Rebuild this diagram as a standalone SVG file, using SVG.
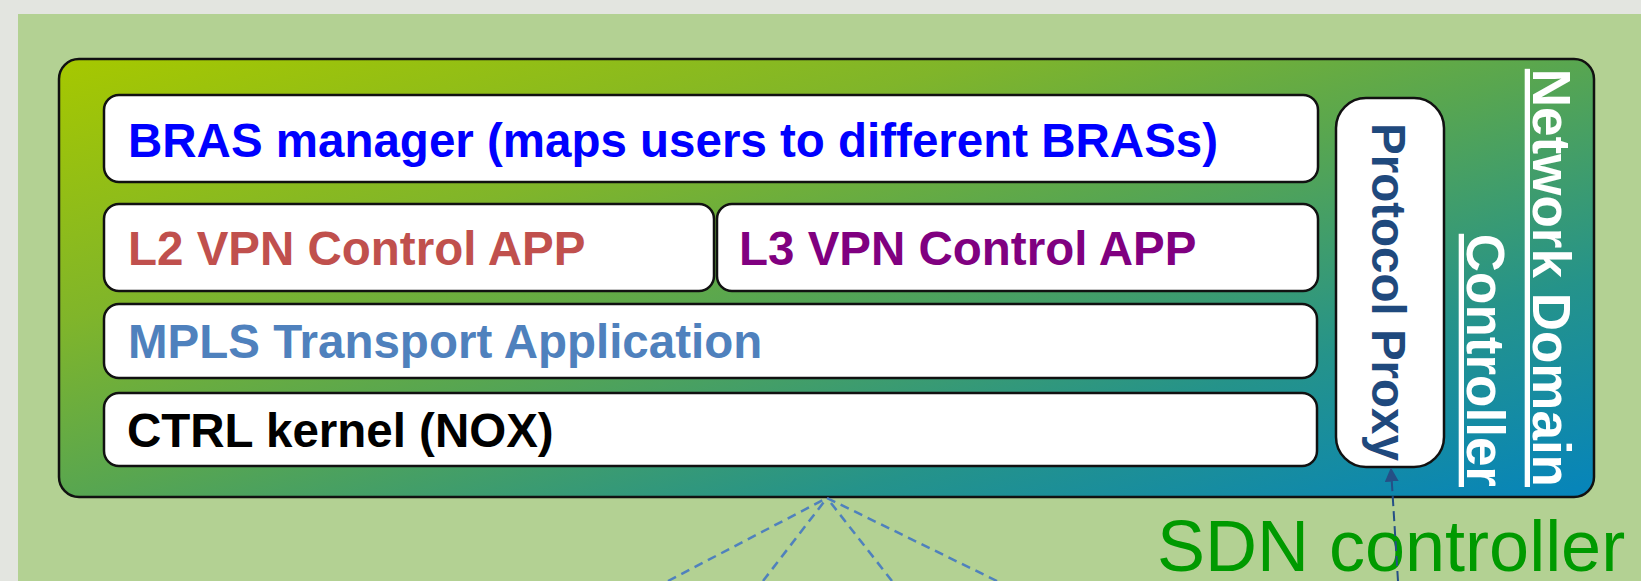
<svg xmlns="http://www.w3.org/2000/svg" width="1641" height="581" viewBox="0 0 1641 581">
<defs>
<linearGradient id="outerGrad" x1="0" y1="0" x2="1" y2="1">
<stop offset="0" stop-color="#a6c800"/>
<stop offset="0.3" stop-color="#80b52a"/>
<stop offset="0.5" stop-color="#58a650"/>
<stop offset="0.75" stop-color="#25938a"/>
<stop offset="1" stop-color="#0584bc"/>
</linearGradient>
<marker id="arrowBlue" viewBox="0 0 10 10" refX="9" refY="5" markerWidth="14" markerHeight="14" markerUnits="userSpaceOnUse" orient="auto">
<path d="M0,0 L10,5 L0,10 z" fill="#254f86"/>
</marker>
<style>
.box{fill:#ffffff;stroke:#111111;stroke-width:2.5}
.lbl{font-family:"Liberation Sans",Arial,sans-serif;font-weight:bold;font-size:47.5px}
.ndc{font-family:"Liberation Sans",Arial,sans-serif;font-weight:bold;font-size:53px;fill:#ffffff;text-decoration:underline}
.dash{stroke:#4f81bd;stroke-width:2.5;stroke-dasharray:9 6;fill:none}
</style>
</defs>
<rect x="0" y="0" width="1641" height="581" fill="#e3e5e0"/>
<rect x="18" y="14" width="1623" height="567" fill="#b3d193"/>

<g id="network-domain-controller">
<rect x="59" y="59" width="1535" height="438" rx="20" fill="url(#outerGrad)" stroke="#111111" stroke-width="2.5"/>
<text class="ndc" transform="translate(1533,487) rotate(90)" text-anchor="end">Network Domain</text>
<text class="ndc" transform="translate(1467,487) rotate(90)" text-anchor="end">Controller</text>
</g>

<g id="bras-manager">
<rect class="box" x="104" y="95" width="1214" height="87" rx="15"/>
<text class="lbl" x="128" y="157" fill="#0000ff">BRAS manager (maps users to different BRASs)</text>
</g>

<g id="l2-vpn">
<rect class="box" x="104" y="204" width="610" height="87" rx="15"/>
<text class="lbl" x="128" y="265" fill="#c0504d">L2 VPN Control APP</text>
</g>

<g id="l3-vpn">
<rect class="box" x="717" y="204" width="601" height="87" rx="15"/>
<text class="lbl" x="739" y="265" fill="#800080">L3 VPN Control APP</text>
</g>

<g id="mpls-transport">
<rect class="box" x="104" y="304" width="1213" height="74" rx="15"/>
<text class="lbl" x="128" y="358" fill="#4f81bd">MPLS Transport Application</text>
</g>

<g id="ctrl-kernel">
<rect class="box" x="104" y="393" width="1213" height="73" rx="15"/>
<text class="lbl" x="127" y="447" fill="#000000">CTRL kernel (NOX)</text>
</g>

<g id="protocol-proxy">
<rect class="box" x="1336" y="98" width="108" height="369" rx="30"/>
<text class="lbl" transform="translate(1372,292) rotate(90)" text-anchor="middle" fill="#1f497d">Protocol Proxy</text>
</g>

<g id="sdn-controller-label">
<text x="1157" y="571" font-family="'Liberation Sans',Arial,sans-serif" font-size="72" fill="#009a00">SDN controller</text>
</g>

<g id="connectors">
<line class="dash" x1="668" y1="581" x2="827" y2="498"/>
<line class="dash" x1="763" y1="581" x2="827" y2="498"/>
<line class="dash" x1="892" y1="581" x2="827" y2="498"/>
<line class="dash" x1="997" y1="581" x2="827" y2="498"/>
<line x1="1398" y1="581" x2="1391" y2="469" stroke="#254f86" stroke-width="2" stroke-dasharray="10 5" marker-end="url(#arrowBlue)"/>
</g>
</svg>
